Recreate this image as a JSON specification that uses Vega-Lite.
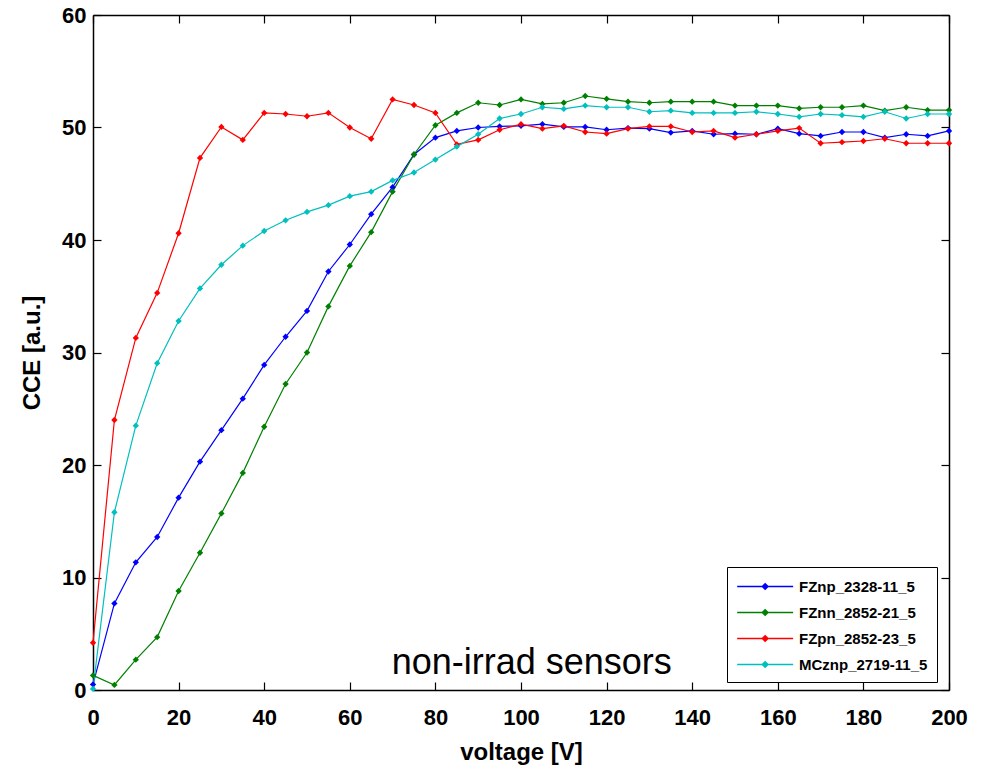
{
  "$schema": "https://vega.github.io/schema/vega-lite/v6.json",
  "autosize": {"type": "none"},
  "padding": {"left": 93, "top": 15, "right": 35, "bottom": 80},
  "width": 856,
  "height": 675,
  "background": "white",
  "config": {
    "view": {"stroke": null},
    "font": "Liberation Sans"
  },
  "datasets": {
    "curves": [
      {"s":"FZnp_2328-11_5","v":0,"c":0.5},{"s":"FZnp_2328-11_5","v":5,"c":7.7},{"s":"FZnp_2328-11_5","v":10,"c":11.35},{"s":"FZnp_2328-11_5","v":15,"c":13.6},{"s":"FZnp_2328-11_5","v":20,"c":17.1},{"s":"FZnp_2328-11_5","v":25,"c":20.3},{"s":"FZnp_2328-11_5","v":30,"c":23.1},{"s":"FZnp_2328-11_5","v":35,"c":25.9},{"s":"FZnp_2328-11_5","v":40,"c":28.9},{"s":"FZnp_2328-11_5","v":45,"c":31.4},{"s":"FZnp_2328-11_5","v":50,"c":33.7},{"s":"FZnp_2328-11_5","v":55,"c":37.2},{"s":"FZnp_2328-11_5","v":60,"c":39.6},{"s":"FZnp_2328-11_5","v":65,"c":42.3},{"s":"FZnp_2328-11_5","v":70,"c":44.7},{"s":"FZnp_2328-11_5","v":75,"c":47.6},{"s":"FZnp_2328-11_5","v":80,"c":49.1},{"s":"FZnp_2328-11_5","v":85,"c":49.7},{"s":"FZnp_2328-11_5","v":90,"c":50.0},{"s":"FZnp_2328-11_5","v":95,"c":50.1},{"s":"FZnp_2328-11_5","v":100,"c":50.15},{"s":"FZnp_2328-11_5","v":105,"c":50.3},{"s":"FZnp_2328-11_5","v":110,"c":50.05},{"s":"FZnp_2328-11_5","v":115,"c":50.05},{"s":"FZnp_2328-11_5","v":120,"c":49.8},{"s":"FZnp_2328-11_5","v":125,"c":49.95},{"s":"FZnp_2328-11_5","v":130,"c":49.9},{"s":"FZnp_2328-11_5","v":135,"c":49.55},{"s":"FZnp_2328-11_5","v":140,"c":49.7},{"s":"FZnp_2328-11_5","v":145,"c":49.4},{"s":"FZnp_2328-11_5","v":150,"c":49.45},{"s":"FZnp_2328-11_5","v":155,"c":49.4},{"s":"FZnp_2328-11_5","v":160,"c":49.9},{"s":"FZnp_2328-11_5","v":165,"c":49.45},{"s":"FZnp_2328-11_5","v":170,"c":49.25},{"s":"FZnp_2328-11_5","v":175,"c":49.6},{"s":"FZnp_2328-11_5","v":180,"c":49.6},{"s":"FZnp_2328-11_5","v":185,"c":49.1},{"s":"FZnp_2328-11_5","v":190,"c":49.4},{"s":"FZnp_2328-11_5","v":195,"c":49.25},{"s":"FZnp_2328-11_5","v":200,"c":49.7},
      {"s":"FZnn_2852-21_5","v":0,"c":1.3},{"s":"FZnn_2852-21_5","v":5,"c":0.45},{"s":"FZnn_2852-21_5","v":10,"c":2.7},{"s":"FZnn_2852-21_5","v":15,"c":4.7},{"s":"FZnn_2852-21_5","v":20,"c":8.8},{"s":"FZnn_2852-21_5","v":25,"c":12.2},{"s":"FZnn_2852-21_5","v":30,"c":15.7},{"s":"FZnn_2852-21_5","v":35,"c":19.3},{"s":"FZnn_2852-21_5","v":40,"c":23.4},{"s":"FZnn_2852-21_5","v":45,"c":27.2},{"s":"FZnn_2852-21_5","v":50,"c":30.0},{"s":"FZnn_2852-21_5","v":55,"c":34.1},{"s":"FZnn_2852-21_5","v":60,"c":37.7},{"s":"FZnn_2852-21_5","v":65,"c":40.7},{"s":"FZnn_2852-21_5","v":70,"c":44.3},{"s":"FZnn_2852-21_5","v":75,"c":47.6},{"s":"FZnn_2852-21_5","v":80,"c":50.2},{"s":"FZnn_2852-21_5","v":85,"c":51.3},{"s":"FZnn_2852-21_5","v":90,"c":52.2},{"s":"FZnn_2852-21_5","v":95,"c":52.0},{"s":"FZnn_2852-21_5","v":100,"c":52.5},{"s":"FZnn_2852-21_5","v":105,"c":52.1},{"s":"FZnn_2852-21_5","v":110,"c":52.2},{"s":"FZnn_2852-21_5","v":115,"c":52.8},{"s":"FZnn_2852-21_5","v":120,"c":52.55},{"s":"FZnn_2852-21_5","v":125,"c":52.3},{"s":"FZnn_2852-21_5","v":130,"c":52.2},{"s":"FZnn_2852-21_5","v":135,"c":52.3},{"s":"FZnn_2852-21_5","v":140,"c":52.3},{"s":"FZnn_2852-21_5","v":145,"c":52.3},{"s":"FZnn_2852-21_5","v":150,"c":51.95},{"s":"FZnn_2852-21_5","v":155,"c":51.95},{"s":"FZnn_2852-21_5","v":160,"c":51.95},{"s":"FZnn_2852-21_5","v":165,"c":51.7},{"s":"FZnn_2852-21_5","v":170,"c":51.8},{"s":"FZnn_2852-21_5","v":175,"c":51.8},{"s":"FZnn_2852-21_5","v":180,"c":51.95},{"s":"FZnn_2852-21_5","v":185,"c":51.5},{"s":"FZnn_2852-21_5","v":190,"c":51.8},{"s":"FZnn_2852-21_5","v":195,"c":51.55},{"s":"FZnn_2852-21_5","v":200,"c":51.55},
      {"s":"FZpn_2852-23_5","v":0,"c":4.2},{"s":"FZpn_2852-23_5","v":5,"c":24.0},{"s":"FZpn_2852-23_5","v":10,"c":31.3},{"s":"FZpn_2852-23_5","v":15,"c":35.3},{"s":"FZpn_2852-23_5","v":20,"c":40.6},{"s":"FZpn_2852-23_5","v":25,"c":47.3},{"s":"FZpn_2852-23_5","v":30,"c":50.05},{"s":"FZpn_2852-23_5","v":35,"c":48.9},{"s":"FZpn_2852-23_5","v":40,"c":51.3},{"s":"FZpn_2852-23_5","v":45,"c":51.2},{"s":"FZpn_2852-23_5","v":50,"c":51.0},{"s":"FZpn_2852-23_5","v":55,"c":51.3},{"s":"FZpn_2852-23_5","v":60,"c":50.0},{"s":"FZpn_2852-23_5","v":65,"c":49.0},{"s":"FZpn_2852-23_5","v":70,"c":52.5},{"s":"FZpn_2852-23_5","v":75,"c":52.0},{"s":"FZpn_2852-23_5","v":80,"c":51.3},{"s":"FZpn_2852-23_5","v":85,"c":48.5},{"s":"FZpn_2852-23_5","v":90,"c":48.9},{"s":"FZpn_2852-23_5","v":95,"c":49.8},{"s":"FZpn_2852-23_5","v":100,"c":50.3},{"s":"FZpn_2852-23_5","v":105,"c":49.9},{"s":"FZpn_2852-23_5","v":110,"c":50.15},{"s":"FZpn_2852-23_5","v":115,"c":49.6},{"s":"FZpn_2852-23_5","v":120,"c":49.45},{"s":"FZpn_2852-23_5","v":125,"c":49.9},{"s":"FZpn_2852-23_5","v":130,"c":50.1},{"s":"FZpn_2852-23_5","v":135,"c":50.1},{"s":"FZpn_2852-23_5","v":140,"c":49.6},{"s":"FZpn_2852-23_5","v":145,"c":49.7},{"s":"FZpn_2852-23_5","v":150,"c":49.1},{"s":"FZpn_2852-23_5","v":155,"c":49.4},{"s":"FZpn_2852-23_5","v":160,"c":49.7},{"s":"FZpn_2852-23_5","v":165,"c":49.95},{"s":"FZpn_2852-23_5","v":170,"c":48.6},{"s":"FZpn_2852-23_5","v":175,"c":48.7},{"s":"FZpn_2852-23_5","v":180,"c":48.8},{"s":"FZpn_2852-23_5","v":185,"c":49.0},{"s":"FZpn_2852-23_5","v":190,"c":48.6},{"s":"FZpn_2852-23_5","v":195,"c":48.6},{"s":"FZpn_2852-23_5","v":200,"c":48.6},
      {"s":"MCznp_2719-11_5","v":0,"c":0.1},{"s":"MCznp_2719-11_5","v":5,"c":15.8},{"s":"MCznp_2719-11_5","v":10,"c":23.5},{"s":"MCznp_2719-11_5","v":15,"c":29.05},{"s":"MCznp_2719-11_5","v":20,"c":32.8},{"s":"MCznp_2719-11_5","v":25,"c":35.7},{"s":"MCznp_2719-11_5","v":30,"c":37.8},{"s":"MCznp_2719-11_5","v":35,"c":39.5},{"s":"MCznp_2719-11_5","v":40,"c":40.8},{"s":"MCznp_2719-11_5","v":45,"c":41.75},{"s":"MCznp_2719-11_5","v":50,"c":42.5},{"s":"MCznp_2719-11_5","v":55,"c":43.1},{"s":"MCznp_2719-11_5","v":60,"c":43.9},{"s":"MCznp_2719-11_5","v":65,"c":44.3},{"s":"MCznp_2719-11_5","v":70,"c":45.3},{"s":"MCznp_2719-11_5","v":75,"c":46.0},{"s":"MCznp_2719-11_5","v":80,"c":47.15},{"s":"MCznp_2719-11_5","v":85,"c":48.3},{"s":"MCznp_2719-11_5","v":90,"c":49.4},{"s":"MCznp_2719-11_5","v":95,"c":50.8},{"s":"MCznp_2719-11_5","v":100,"c":51.2},{"s":"MCznp_2719-11_5","v":105,"c":51.8},{"s":"MCznp_2719-11_5","v":110,"c":51.65},{"s":"MCznp_2719-11_5","v":115,"c":51.95},{"s":"MCznp_2719-11_5","v":120,"c":51.8},{"s":"MCznp_2719-11_5","v":125,"c":51.8},{"s":"MCznp_2719-11_5","v":130,"c":51.4},{"s":"MCznp_2719-11_5","v":135,"c":51.5},{"s":"MCznp_2719-11_5","v":140,"c":51.3},{"s":"MCznp_2719-11_5","v":145,"c":51.3},{"s":"MCznp_2719-11_5","v":150,"c":51.3},{"s":"MCznp_2719-11_5","v":155,"c":51.4},{"s":"MCznp_2719-11_5","v":160,"c":51.2},{"s":"MCznp_2719-11_5","v":165,"c":50.95},{"s":"MCznp_2719-11_5","v":170,"c":51.2},{"s":"MCznp_2719-11_5","v":175,"c":51.1},{"s":"MCznp_2719-11_5","v":180,"c":50.95},{"s":"MCznp_2719-11_5","v":185,"c":51.4},{"s":"MCznp_2719-11_5","v":190,"c":50.8},{"s":"MCznp_2719-11_5","v":195,"c":51.2},{"s":"MCznp_2719-11_5","v":200,"c":51.2}
    ],
    "note": [{"label": "non-irrad sensors", "v": 102.5, "c": 1.4}]
  },
  "layer": [
    {
      "data": {"name": "curves"},
      "mark": {"type": "line", "strokeWidth": 1.2, "point": {"shape": "diamond", "filled": true, "size": 40}},
      "encoding": {
        "x": {"field": "v", "type": "quantitative", "scale": {"domain": [0, 200], "nice": false, "zero": false},
          "axis": {"orient": "bottom", "title": "voltage [V]", "values": [0,20,40,60,80,100,120,140,160,180,200],
            "grid": false, "domainColor": "black", "domainWidth": 1.5, "tickColor": "black", "tickSize": -8, "tickWidth": 1.2,
            "labelFont": "Liberation Sans", "labelFontWeight": "bold", "labelFontSize": 22, "labelColor": "black", "labelPadding": 25, "labelFlush": false,
            "titleFont": "Liberation Sans", "titleFontWeight": "bold", "titleFontSize": 24, "titleColor": "black", "titlePadding": 12}},
        "y": {"field": "c", "type": "quantitative", "scale": {"domain": [0, 60], "nice": false},
          "axis": {"orient": "left", "title": "CCE [a.u.]", "values": [0,10,20,30,40,50,60],
            "grid": false, "domainColor": "black", "domainWidth": 1.5, "tickColor": "black", "tickSize": -8, "tickWidth": 1.2,
            "labelFont": "Liberation Sans", "labelFontWeight": "bold", "labelFontSize": 22, "labelColor": "black", "labelPadding": 15, "labelFlush": false,
            "titleFont": "Liberation Sans", "titleFontWeight": "bold", "titleFontSize": 24, "titleColor": "black", "titlePadding": 17}},
        "color": {"field": "s", "type": "nominal",
          "scale": {"domain": ["FZnp_2328-11_5", "FZnn_2852-21_5", "FZpn_2852-23_5", "MCznp_2719-11_5"], "range": ["#0000ff", "#008000", "#ff0000", "#00bfbf"]},
          "legend": {"title": null, "orient": "none", "legendX": 634, "legendY": 552,
            "symbolType": "M-1,0H5M2,-0.3L2.3,0L2,0.3L1.7,0Z", "symbolSize": 348, "symbolStrokeWidth": 1.5,
            "labelFont": "Liberation Sans", "labelFontWeight": "bold", "labelFontSize": 15, "labelColor": "black", "labelOffset": 42,
            "rowPadding": 7, "padding": 9, "strokeColor": "black", "fillColor": "white", "cornerRadius": 0}}
      }
    },
    {
      "data": {"name": "note"},
      "mark": {"type": "text", "font": "Liberation Sans", "fontSize": 36, "align": "center", "baseline": "alphabetic", "color": "black"},
      "encoding": {
        "x": {"field": "v", "type": "quantitative", "axis": {"orient": "top", "title": null, "labels": false, "values": [0,20,40,60,80,100,120,140,160,180,200], "grid": false, "domainColor": "black", "domainWidth": 1.5, "tickColor": "black", "tickSize": -8, "tickWidth": 1.2}},
        "y": {"field": "c", "type": "quantitative", "axis": {"orient": "right", "title": null, "labels": false, "values": [0,10,20,30,40,50,60], "grid": false, "domainColor": "black", "domainWidth": 1.5, "tickColor": "black", "tickSize": -8, "tickWidth": 1.2}},
        "text": {"field": "label"}
      }
    }
  ]
}
